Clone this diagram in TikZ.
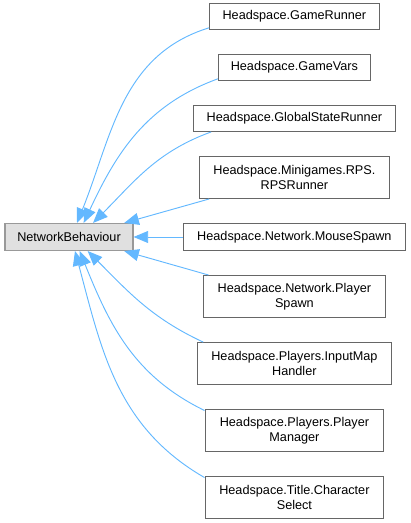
\documentclass[tikz,border=0pt]{standalone}
\usepackage{fontspec}
\setmainfont{Liberation Sans}
\usetikzlibrary{arrows.meta,positioning,calc}
\definecolor{edgeblue}{HTML}{63B8FF}
\definecolor{framegray}{HTML}{666666}
\definecolor{basegray}{HTML}{999999}
\definecolor{basefill}{HTML}{E0E0E0}
\tikzset{
  cls/.style={draw=framegray, line width=0.8pt, fill=white, align=center, inner xsep=3pt, inner ysep=2pt, font=\fontsize{9.5}{11.25}\selectfont, minimum height=19.5pt},
  clstwo/.style={cls, minimum height=31.5pt},
  basecls/.style={cls, draw=basegray, fill=basefill, minimum height=20.25pt},
  inherit/.style={-{Triangle[length=11pt,width=9pt]}, line width=0.7pt, draw=edgeblue}
}
\begin{document}
\begin{tikzpicture}[node distance=18pt]
\useasboundingbox (-51.75pt,-214.5pt) rectangle (255.75pt,177.75pt);
\node[basecls, minimum width=96pt] (base) at (0,0) {NetworkBehaviour};
\node[cls, right=36.75pt of base, minimum width=167pt, minimum height=20.25pt] (mouse) {Headspace.Network.MouseSpawn};
% classes above
\node[clstwo, above=of mouse, minimum width=143pt] (rps) {Headspace.Minigames.RPS.\\RPSRunner};
\node[cls, above=of rps, minimum width=152pt] (global) {Headspace.GlobalStateRunner};
\node[cls, above=of global, minimum width=114pt] (vars) {Headspace.GameVars};
\node[cls, above=of vars, minimum width=127pt] (runner) {Headspace.GameRunner};
% classes below
\node[clstwo, below=of mouse, minimum width=137pt] (pspawn) {Headspace.Network.Player\\Spawn};
\node[clstwo, below=of pspawn, minimum width=145pt] (input) {Headspace.Players.InputMap\\Handler};
\node[clstwo, below=of input, minimum width=134pt] (manager) {Headspace.Players.Player\\Manager};
\node[clstwo, below=of manager, minimum width=134pt] (charsel) {Headspace.Title.Character\\Select};
% inheritance edges
\draw[inherit] ($(runner.south west)+(0,1.5pt)$) to[out=197,in=68] ($(base.north)+(6pt,0)$);
\draw[inherit] ($(vars.south west)+(0,1.5pt)$) to[out=200,in=65] ($(base.north)+(11pt,0)$);
\draw[inherit] ($(global.south west)+(14pt,0)$) to[out=200,in=45] ($(base.north)+(18pt,0)$);
\draw[inherit] ($(rps.south west)+(8pt,0)$) -- ($(base.north east)+(-7pt,0)$);
\draw[inherit] (mouse.west) -- (base.east);
\draw[inherit] ($(pspawn.north west)+(4.5pt,0)$) -- ($(base.south east)+(-7pt,0)$);
\draw[inherit] ($(input.north west)+(4.5pt,0)$) to[out=155,in=-45] ($(base.south)+(14pt,0)$);
\draw[inherit] ($(manager.north west)+(0,-1pt)$) to[out=154,in=-68] ($(base.south)+(8pt,0)$);
\draw[inherit] ($(charsel.north west)+(0,-1pt)$) to[out=150,in=-75] ($(base.south)+(4.5pt,0)$);
\end{tikzpicture}
\end{document}
